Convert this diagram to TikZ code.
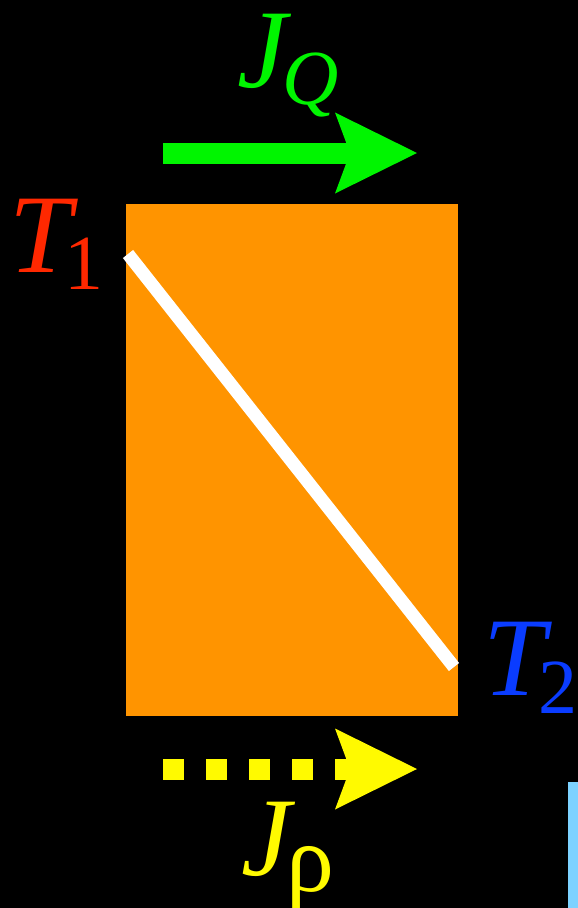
\documentclass[tikz,border=0pt]{standalone}
\usepackage{fontspec}
\setmainfont{Liberation Serif}
\usetikzlibrary{arrows.meta}
\definecolor{boxorange}{RGB}{255,148,0}
\definecolor{flowgreen}{RGB}{0,245,0}
\definecolor{flowyellow}{RGB}{255,250,0}
\definecolor{hotred}{RGB}{255,40,0}
\definecolor{coldblue}{RGB}{10,60,255}
\definecolor{barblue}{RGB}{125,210,255}
\newcommand\lblbig{\fontsize{112}{112}\selectfont}
\newcommand\lblsub{\fontsize{78}{78}\selectfont}
\newcommand\lblrho{\fontsize{96}{96}\selectfont}
\begin{document}
\begin{tikzpicture}[x=1pt,y=-1pt,
  bigtip/.style={-{Stealth[length=82pt,width=81pt,inset=15pt,line width=0pt]}},
  flow/.style={line width=21pt},
  lbl/.style={inner sep=0pt,anchor=base west,font=\lblbig}]
\useasboundingbox (0,0) rectangle (578,908);
\fill[black] (0,0) rectangle (578,908);
\fill[boxorange] (126,204) rectangle (458,716);
\coordinate (wa) at (128,254);
\coordinate (wb) at (454,667);
\draw[white,line width=13pt] (wa) -- (wb);
\coordinate (qa) at (163,153);
\coordinate (qb) at (417,153);
\draw[flow,flowgreen,bigtip] (qa) -- (qb);
\coordinate (ra) at (163,769);
\coordinate (rb) at (417,769);
\draw[flow,flowyellow,dash pattern=on 21pt off 22pt,bigtip] (ra) -- (rb);
\fill[barblue] (568,782) rectangle (578,908);
\node[lbl,text=flowgreen] (jq) at (237,87) {{\itshape J}\kern-4pt\raisebox{-17pt}{\lblsub\itshape Q}};
\node[lbl,text=hotred] (t1) at (9,272) {{\itshape T}\kern-7pt\raisebox{-17pt}{\lblsub 1}};
\node[lbl,text=coldblue] (t2) at (483,695) {{\itshape T}\kern-7pt\raisebox{-18pt}{\lblsub 2}};
\node[lbl,text=flowyellow] (jr) at (241,875) {{\itshape J}\kern-4pt\raisebox{-16pt}{\lblrho ρ}};
\end{tikzpicture}
\end{document}
